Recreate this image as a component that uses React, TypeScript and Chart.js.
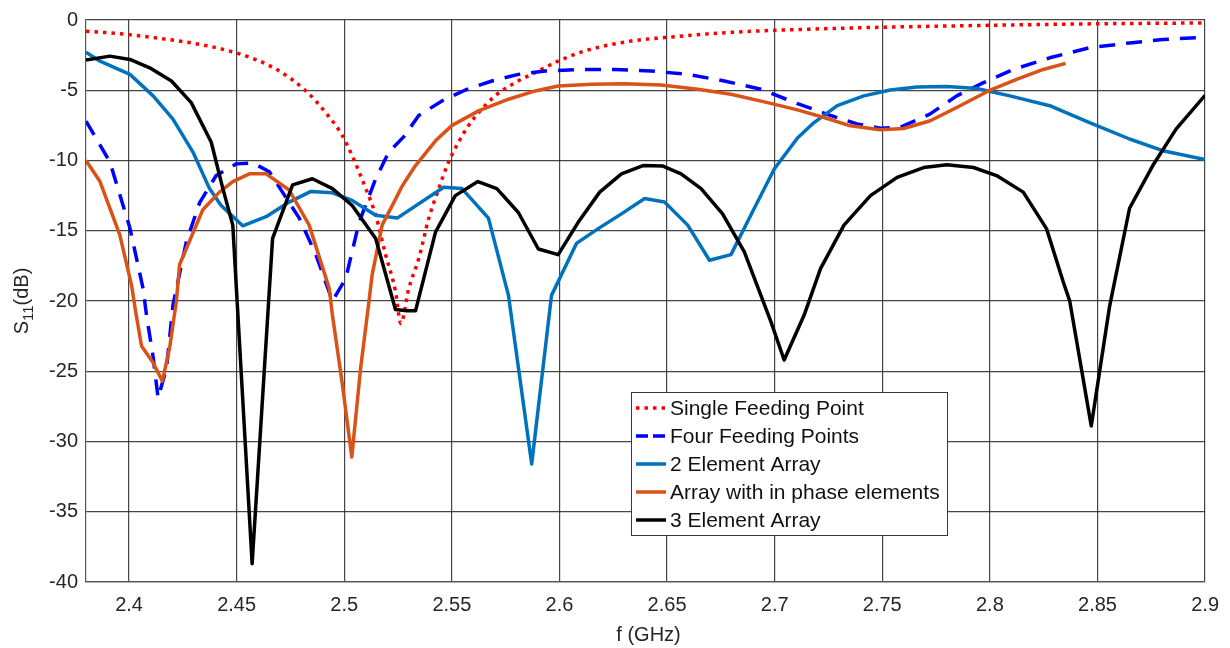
import React, { useEffect, useRef } from "react";
import { Chart, registerables } from "chart.js";

Chart.register(...registerables);

// ---------- data ----------
const SINGLE_F = [2.38, 2.4, 2.4498, 2.4683, 2.4822, 2.4914, 2.499, 2.5035, 2.51, 2.5146, 2.5192, 2.5238, 2.5263, 2.53, 2.5346, 2.5393, 2.5439, 2.5485, 2.5531, 2.5578, 2.5624, 2.5701, 2.5794, 2.5902, 2.5994, 2.6118, 2.6332, 2.6488, 2.6797, 2.7106, 2.7491, 2.7993, 2.8494, 2.9];
const SINGLE_S11 = [-0.8, -1.04, -2.34, -3.5, -5.05, -6.6, -8.2, -9.6, -12.0, -13.9, -16.7, -19.3, -21.6, -19.1, -17.0, -14.1, -12.0, -10.1, -8.7, -7.5, -6.6, -5.4, -4.46, -3.63, -2.93, -2.2, -1.5, -1.25, -0.88, -0.68, -0.52, -0.38, -0.27, -0.21];

const FOUR_F = [2.38, 2.3911, 2.4004, 2.4065, 2.4081, 2.4112, 2.4135, 2.4174, 2.4204, 2.4266, 2.4328, 2.4405, 2.4498, 2.4575, 2.4652, 2.4713, 2.4791, 2.4868, 2.4945, 2.5007, 2.5069, 2.5146, 2.5207, 2.5277, 2.5346, 2.5454, 2.5563, 2.5686, 2.5809, 2.5933, 2.6087, 2.6257, 2.6425, 2.6596, 2.6766, 2.6936, 2.7106, 2.726, 2.7383, 2.7491, 2.7582, 2.7721, 2.7846, 2.797, 2.8109, 2.8278, 2.8462, 2.8649, 2.8803, 2.9];
const FOUR_S11 = [-7.2, -10.1, -14.8, -19.1, -21.0, -24.0, -26.9, -24.8, -20.3, -15.8, -13.0, -11.07, -10.24, -10.17, -10.8, -12.25, -14.1, -16.7, -20.0, -18.4, -14.4, -11.3, -9.4, -8.3, -6.8, -5.76, -4.98, -4.34, -3.87, -3.63, -3.52, -3.52, -3.63, -3.87, -4.34, -4.93, -5.95, -6.8, -7.4, -7.7, -7.65, -6.7, -5.4, -4.46, -3.52, -2.69, -1.98, -1.63, -1.39, -1.23];

const TWO_F = [2.38, 2.3865, 2.4004, 2.4112, 2.4204, 2.4297, 2.4374, 2.4428, 2.4528, 2.4637, 2.4744, 2.4845, 2.4945, 2.5037, 2.5146, 2.5246, 2.5462, 2.5547, 2.567, 2.5763, 2.5871, 2.5963, 2.6079, 2.618, 2.6288, 2.6396, 2.6488, 2.6596, 2.6697, 2.6797, 2.6889, 2.6998, 2.7106, 2.7183, 2.7291, 2.7414, 2.7537, 2.7661, 2.78, 2.7939, 2.8093, 2.8278, 2.8463, 2.8649, 2.8803, 2.9];
const TWO_S11 = [-2.29, -2.93, -3.87, -5.4, -7.06, -9.4, -12.0, -13.2, -14.65, -14.0, -12.96, -12.2, -12.3, -12.84, -13.9, -14.1, -11.9, -12.0, -14.1, -19.6, -31.6, -19.6, -15.9, -14.85, -13.8, -12.7, -12.96, -14.6, -17.1, -16.7, -13.9, -10.6, -8.4, -7.3, -6.1, -5.4, -4.98, -4.77, -4.74, -4.88, -5.4, -6.1, -7.3, -8.47, -9.3, -9.94];

const INPHASE_F = [2.38, 2.3865, 2.3957, 2.4012, 2.403, 2.4058, 2.4112, 2.4155, 2.4189, 2.422, 2.4235, 2.4343, 2.442, 2.4482, 2.4559, 2.4637, 2.4744, 2.4837, 2.493, 2.4945, 2.4991, 2.5035, 2.5076, 2.5115, 2.513, 2.5176, 2.523, 2.527, 2.5331, 2.5424, 2.5501, 2.5624, 2.5763, 2.5887, 2.5994, 2.6149, 2.6303, 2.6473, 2.6643, 2.6797, 2.6952, 2.7106, 2.7229, 2.7352, 2.7491, 2.7599, 2.7723, 2.7846, 2.7993, 2.8124, 2.8248, 2.8352];
const INPHASE_S11 = [-10.0, -11.5, -15.3, -18.9, -20.7, -23.2, -24.4, -25.7, -23.3, -20.0, -17.4, -13.5, -12.25, -11.5, -10.95, -10.95, -12.1, -14.6, -19.1, -21.0, -25.9, -31.1, -24.8, -20.0, -18.1, -14.6, -13.0, -11.8, -10.36, -8.6, -7.5, -6.47, -5.64, -5.05, -4.7, -4.58, -4.53, -4.63, -4.93, -5.29, -5.83, -6.4, -6.94, -7.53, -7.81, -7.72, -7.17, -6.23, -5.05, -4.22, -3.52, -3.09];

const THREE_F = [2.38, 2.3911, 2.4004, 2.4096, 2.4197, 2.4289, 2.4382, 2.4436, 2.4482, 2.4572, 2.4667, 2.476, 2.4852, 2.4945, 2.5037, 2.5146, 2.5238, 2.5292, 2.5331, 2.5424, 2.5516, 2.5621, 2.5709, 2.5809, 2.5902, 2.5994, 2.6087, 2.6187, 2.6288, 2.6388, 2.6481, 2.6565, 2.6658, 2.6758, 2.6859, 2.6982, 2.7044, 2.7137, 2.7213, 2.7322, 2.7445, 2.7569, 2.7692, 2.78, 2.7924, 2.8031, 2.8155, 2.8263, 2.834, 2.8371, 2.8471, 2.8556, 2.8649, 2.8757, 2.8865, 2.9];
const THREE_S11 = [-2.85, -2.57, -2.81, -3.4, -4.34, -5.88, -8.7, -12.0, -14.6, -38.7, -15.55, -11.73, -11.3, -12.0, -13.2, -15.55, -20.6, -20.7, -20.7, -15.1, -12.5, -11.5, -12.0, -13.7, -16.3, -16.7, -14.4, -12.25, -10.95, -10.36, -10.4, -10.95, -12.0, -13.8, -16.5, -21.45, -24.2, -21.0, -17.7, -14.6, -12.5, -11.2, -10.5, -10.3, -10.5, -11.07, -12.25, -14.85, -18.6, -20.0, -28.9, -20.4, -13.4, -10.36, -7.77, -5.36];

const SERIES_LABELS = [
  "Single Feeding Point",
  "Four Feeding Points",
  "2 Element Array",
  "Array with in phase elements",
  "3 Element Array",
];

const X_TICKS = [2.4, 2.45, 2.5, 2.55, 2.6, 2.65, 2.7, 2.75, 2.8, 2.85, 2.9];
const Y_TICKS = [0, -5, -10, -15, -20, -25, -30, -35, -40];

const X_TITLE = "f (GHz)";
const Y_TITLE_MAIN = "S";
const Y_TITLE_SUB = "11";
const Y_TITLE_REST = "(dB)";

// ---------- styles ----------
const FONT = "'Liberation Sans', Arial, Helvetica, sans-serif";
const TEXT_COLOR = "#262626";
const GRID_COLOR = "rgba(38,38,38,0.85)";

const pts = (xs: number[], ys: number[]) => xs.map((x, i) => ({ x, y: ys[i] }));

const titlesAndLegend = {
  id: "titlesAndLegend",
  afterDraw(chart: any) {
    const ctx = chart.ctx as CanvasRenderingContext2D;
    const area = chart.chartArea;
    ctx.save();
    ctx.fillStyle = TEXT_COLOR;

    // x title
    ctx.font = `20px ${FONT}`;
    ctx.textAlign = "center";
    ctx.textBaseline = "middle";
    ctx.fillText(X_TITLE, (area.left + area.right) / 2 + 3, 635);

    // y title with subscript
    ctx.save();
    ctx.translate(22, (area.top + area.bottom) / 2);
    ctx.rotate(-Math.PI / 2);
    ctx.textAlign = "left";
    ctx.textBaseline = "middle";
    const big = `20px ${FONT}`;
    const small = `15px ${FONT}`;
    ctx.font = big;
    const w1 = ctx.measureText(Y_TITLE_MAIN).width;
    const w3 = ctx.measureText(Y_TITLE_REST).width;
    ctx.font = small;
    const w2 = ctx.measureText(Y_TITLE_SUB).width;
    let x0 = -(w1 + w2 + w3) / 2;
    ctx.font = big;
    ctx.fillText(Y_TITLE_MAIN, x0, 0);
    x0 += w1;
    ctx.font = small;
    ctx.fillText(Y_TITLE_SUB, x0, 7);
    x0 += w2;
    ctx.font = big;
    ctx.fillText(Y_TITLE_REST, x0, 0);
    ctx.restore();

    // legend box
    const bx = 631, by = 392, bw = 316, bh = 143;
    ctx.fillStyle = "#ffffff";
    ctx.fillRect(bx, by, bw, bh);
    ctx.strokeStyle = "#3a3a3a";
    ctx.lineWidth = 1;
    ctx.strokeRect(bx + 0.5, by + 0.5, bw, bh);
    chart.data.datasets.forEach((ds: any, i: number) => {
      const yy = 408 + i * 28;
      ctx.save();
      ctx.strokeStyle = ds.borderColor;
      ctx.lineWidth = ds.borderWidth;
      ctx.setLineDash(ds.legendDash || []);
      ctx.beginPath();
      ctx.moveTo(636, yy);
      ctx.lineTo(666, yy);
      ctx.stroke();
      ctx.restore();
      ctx.fillStyle = "#111111";
      ctx.font = `21px ${FONT}`;
      ctx.textAlign = "left";
      ctx.textBaseline = "middle";
      ctx.fillText(ds.label, 670, yy + 1);
    });
    ctx.restore();
  },
};

export default function App() {
  const ref = useRef<HTMLCanvasElement | null>(null);

  useEffect(() => {
    if (!ref.current) return;
    const chart = new Chart(ref.current, {
      type: "line",
      data: {
        datasets: [
          {
            label: SERIES_LABELS[0],
            data: pts(SINGLE_F, SINGLE_S11),
            borderColor: "#ff0000",
            borderWidth: 3.5,
            borderDash: [3.5, 5],
            legendDash: [3.5, 5],
            cubicInterpolationMode: "monotone",
            order: 5,
          },
          {
            label: SERIES_LABELS[1],
            data: pts(FOUR_F, FOUR_S11),
            borderColor: "#0000ff",
            borderWidth: 3.5,
            borderDash: [16, 11],
            legendDash: [12, 5],
            order: 4,
          },
          {
            label: SERIES_LABELS[2],
            data: pts(TWO_F, TWO_S11),
            borderColor: "#0072bd",
            borderWidth: 3.5,
            order: 3,
          },
          {
            label: SERIES_LABELS[3],
            data: pts(INPHASE_F, INPHASE_S11),
            borderColor: "#d95319",
            borderWidth: 3.5,
            order: 2,
          },
          {
            label: SERIES_LABELS[4],
            data: pts(THREE_F, THREE_S11),
            borderColor: "#000000",
            borderWidth: 3.5,
            order: 1,
          },
        ] as any,
      },
      options: {
        animation: false,
        responsive: false,
        devicePixelRatio: 1,
        events: [],
        elements: {
          point: { radius: 0 },
          line: { tension: 0, borderJoinStyle: "round", fill: false },
        },
        layout: { padding: { left: 0, top: 17, right: 22, bottom: 0 } },
        plugins: {
          legend: { display: false },
          tooltip: { enabled: false },
          title: { display: false },
        },
        scales: {
          x: {
            type: "linear",
            min: 2.38,
            max: 2.9,
            afterBuildTicks: (scale: any) => {
              scale.ticks = X_TICKS.map((v) => ({ value: v }));
            },
            afterFit: (scale: any) => {
              scale.height = 66;
            },
            ticks: {
              autoSkip: false,
              maxRotation: 0,
              padding: 11,
              color: TEXT_COLOR,
              font: { family: FONT, size: 20 },
              callback: (v: any) => String(Math.round(Number(v) * 100) / 100),
            },
            grid: { color: GRID_COLOR, lineWidth: 1.2, drawTicks: false },
            border: { display: true, color: "#555555", width: 1.2 },
          },
          y: {
            type: "linear",
            min: -40,
            max: 0,
            afterBuildTicks: (scale: any) => {
              scale.ticks = Y_TICKS.map((v) => ({ value: v }));
            },
            afterFit: (scale: any) => {
              scale.width = 86;
            },
            ticks: {
              autoSkip: false,
              padding: 8,
              color: TEXT_COLOR,
              font: { family: FONT, size: 20 },
              callback: (v: any) => String(v),
            },
            grid: { color: GRID_COLOR, lineWidth: 1.2, drawTicks: false },
            border: { display: true, color: "#555555", width: 1.2 },
          },
        },
      } as any,
      plugins: [titlesAndLegend],
    });
    return () => chart.destroy();
  }, []);

  return (
    <div style={{ position: "fixed", left: 0, top: 0, width: 1230, height: 648, background: "#fff" }}>
      <canvas ref={ref} width={1230} height={648} style={{ width: 1230, height: 648, display: "block" }} />
    </div>
  );
}
